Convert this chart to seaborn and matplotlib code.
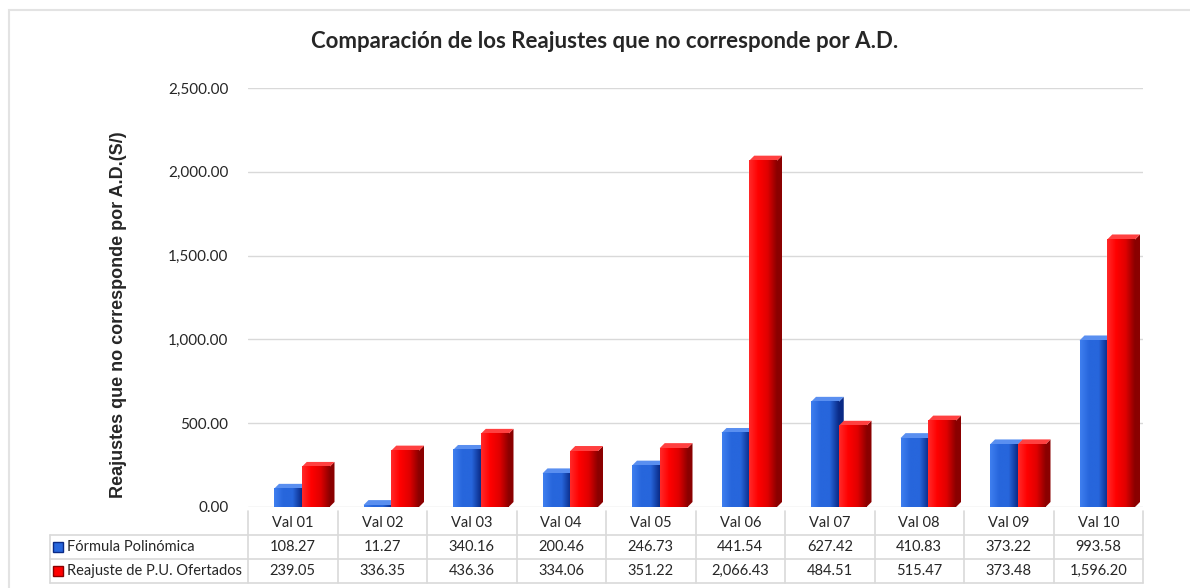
import numpy as np
import pandas as pd
import matplotlib
matplotlib.use('Agg')
import matplotlib.pyplot as plt
from matplotlib.colors import LinearSegmentedColormap
from matplotlib.patches import Rectangle, Polygon
import seaborn as sns

categorias = ['Val 01', 'Val 02', 'Val 03', 'Val 04', 'Val 05',
              'Val 06', 'Val 07', 'Val 08', 'Val 09', 'Val 10']
formula_polinomica = [108.27, 11.27, 340.16, 200.46, 246.73,
                      441.54, 627.42, 410.83, 373.22, 993.58]
reajuste_pu = [239.05, 336.35, 436.36, 334.06, 351.22,
               2066.43, 484.51, 515.47, 373.48, 1596.20]
series = ['Fórmula Polinómica', 'Reajuste de P.U. Ofertados']
y_ticks = [0, 500, 1000, 1500, 2000, 2500]

BLUE, BLUE_DARK, BLUE_LIGHT, BLUE_TOP = '#2766DC', '#0A2A86', '#3F7FF0', '#5A8FF0'
RED, RED_DARK, RED_LIGHT, RED_TOP = '#FF0000', '#8A0000', '#FF2A2A', '#FF4040'
GRID = '#D9D9D9'

df = pd.DataFrame({
    'cat': categorias * 2,
    'valor': formula_polinomica + reajuste_pu,
    'serie': [series[0]] * 10 + [series[1]] * 10,
})

sns.set_style('white')
plt.rcParams['font.family'] = ['Lato', 'DejaVu Sans']

W, H = 1190, 588
fig = plt.figure(figsize=(W / 100, H / 100), dpi=100)
fig.patch.set_facecolor('white')

# border of the chart area
fig.add_artist(Rectangle((9 / W, -0.1), 1.2, 1 - 10 / H + 0.1, transform=fig.transFigure,
                         fill=False, edgecolor='#E3E3E3', lw=1.5))

left, right, bottom, top = 248, 1143, 507, 88
ax = fig.add_axes([left / W, 1 - bottom / H, (right - left) / W, (bottom - top) / H])

sns.barplot(data=df, x='cat', y='valor', hue='serie', palette=[BLUE, RED],
            width=0.62, saturation=1, legend=False, ax=ax, zorder=3)

# pseudo 3D: shaded front, dark side, light top (bars sit mid-depth, so nudged right)
cmaps = {
    BLUE: LinearSegmentedColormap.from_list('b', [BLUE_LIGHT, BLUE, BLUE, BLUE_DARK]),
    RED: LinearSegmentedColormap.from_list('r', [RED_LIGHT, RED, '#E00000', RED_DARK]),
}
col_w = (right - left) / len(categorias)
shift = 9 / col_w
dx = 5 / col_w
dy = 5 * 2500 / (bottom - top)
grad = np.linspace(0, 1, 256).reshape(1, -1)
for i, p in enumerate(list(ax.patches)):
    blue = i < len(categorias)
    col = BLUE if blue else RED
    p.set_x(p.get_x() + shift)
    x0, w, h = p.get_x(), p.get_width(), p.get_height()
    x1 = x0 + w
    ax.add_patch(Polygon([(x1, 0), (x1 + dx, dy), (x1 + dx, h + dy), (x1, h)],
                         closed=True, color=BLUE_DARK if blue else RED_DARK, zorder=4, lw=0))
    ax.add_patch(Polygon([(x0, h), (x0 + dx, h + dy), (x1 + dx, h + dy), (x1, h)],
                         closed=True, color=BLUE_TOP if blue else RED_TOP, zorder=4, lw=0))
    ax.imshow(grad, cmap=cmaps[col], extent=[x0, x1, 0, h],
              aspect='auto', zorder=5, origin='lower')

ax.set_xlim(-0.5, len(categorias) - 0.5)
ax.set_ylim(0, 2500)
ax.set_yticks(y_ticks)
ax.set_yticklabels([f'{v:,.2f}' for v in y_ticks], fontsize=11)
ax.tick_params(axis='y', length=0, pad=14)
ax.set_xticks([])
ax.set_xlabel('')
ax.grid(axis='y', color=GRID, lw=1, zorder=0)
ax.set_axisbelow(True)
for s in ax.spines.values():
    s.set_visible(False)

ax.set_ylabel('Reajustes que no corresponde por A.D.(S/)', fontsize=13,
              fontweight='bold', family='Liberation Sans')
ax.yaxis.set_label_coords(-0.135, 0.46)

fig.text(605 / W, 1 - 42 / H, 'Comparación de los Reajustes que no corresponde por A.D.',
         ha='center', va='center', fontsize=16, fontweight='bold')

# data table below the plot
tab = fig.add_axes([left / W, 1 - 583 / H, (right - left) / W, (583 - 511) / H])
tab.set_xlim(-0.5, len(categorias) - 0.5)
tab.set_ylim(3, 0)
tab.axis('off')
x_lab = -0.5 - (left - 50) / col_w

for i, c in enumerate(categorias):
    tab.text(i, 0.5, c, ha='center', va='center', fontsize=10.5)
    tab.text(i, 1.5, f'{formula_polinomica[i]:,.2f}', ha='center', va='center', fontsize=10.5)
    tab.text(i, 2.5, f'{reajuste_pu[i]:,.2f}', ha='center', va='center', fontsize=10.5)

for r, (name, col, dark) in enumerate(zip(series, [BLUE, RED], [BLUE_DARK, RED_DARK])):
    tab.plot([x_lab + 0.09], [r + 1.5], marker='s', ms=6.5, color=col,
             mec=dark, mew=1, clip_on=False)
    tab.text(x_lab + 0.19, r + 1.5, name, ha='left', va='center', fontsize=10.5)

for yy in [1, 2, 3]:
    tab.plot([x_lab, len(categorias) - 0.5], [yy, yy], color=GRID, lw=1.2, clip_on=False)
for i in range(len(categorias) + 1):
    tab.plot([i - 0.5, i - 0.5], [0, 3], color=GRID, lw=1.2, clip_on=False)
tab.plot([x_lab, x_lab], [1, 3], color=GRID, lw=1.2, clip_on=False)

fig.savefig('out.png', dpi=100)
